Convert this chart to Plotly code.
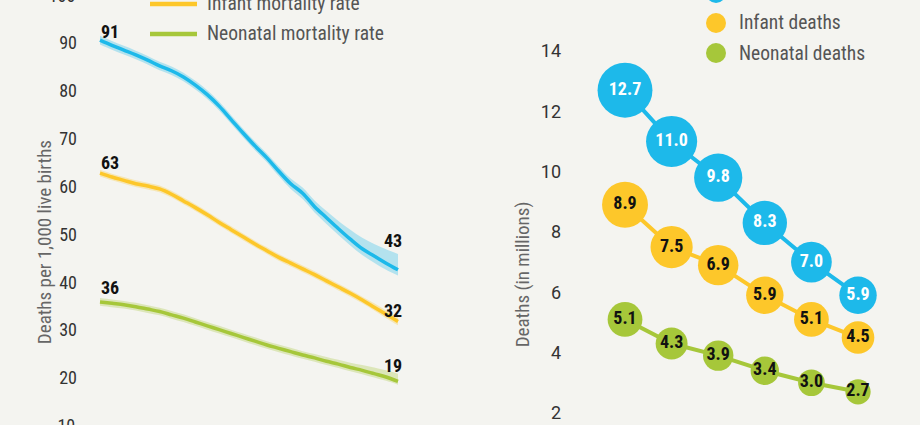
import plotly.graph_objects as go

# ---------------- data ----------------
years = list(range(1990, 2016))

u5mr = [90.6, 89.5, 88.5, 87.5, 86.4, 85.2, 84.2, 82.9, 81.2, 79.2, 76.8, 74.0, 71.2,
        68.5, 66.0, 63.2, 60.6, 58.6, 55.8, 53.5, 51.2, 49.0, 47.0, 45.5, 44.0, 42.6]
u5mr_lo = [89.7, 88.6, 87.6, 86.6, 85.5, 84.3, 83.3, 82.0, 80.3, 78.3, 75.9, 73.1, 70.3,
           67.6, 65.1, 62.2, 59.5, 57.4, 54.6, 52.2, 49.9, 47.7, 45.7, 44.1, 42.6, 41.4]
u5mr_hi = [91.5, 90.4, 89.4, 88.4, 87.3, 86.1, 85.1, 83.8, 82.1, 80.1, 77.7, 74.9, 72.1,
           69.4, 66.9, 64.2, 61.7, 59.8, 57.1, 54.9, 52.8, 51.0, 49.3, 48.0, 46.9, 45.9]

imr = [62.8, 62.0, 61.3, 60.6, 60.1, 59.5, 58.4, 57.0, 55.6, 54.1, 52.5, 51.0, 49.5,
       48.0, 46.6, 45.2, 44.0, 42.8, 41.6, 40.3, 39.0, 37.7, 36.3, 34.8, 33.3, 31.8]
imr_lo = [62.1, 61.3, 60.6, 59.9, 59.4, 58.8, 57.7, 56.3, 54.9, 53.4, 51.8, 50.3, 48.8,
          47.3, 45.9, 44.5, 43.3, 42.1, 40.9, 39.6, 38.3, 37.0, 35.6, 34.1, 32.5, 31.0]
imr_hi = [63.5, 62.7, 62.0, 61.3, 60.8, 60.2, 59.1, 57.7, 56.3, 54.8, 53.2, 51.7, 50.2,
          48.7, 47.3, 45.9, 44.7, 43.5, 42.3, 41.0, 39.7, 38.4, 37.0, 35.6, 34.1, 32.7]

nmr = [35.9, 35.6, 35.3, 34.9, 34.4, 33.9, 33.2, 32.5, 31.7, 30.9, 30.1, 29.3, 28.5,
       27.7, 26.9, 26.2, 25.5, 24.8, 24.2, 23.5, 22.9, 22.2, 21.6, 20.9, 20.2, 19.3]
nmr_lo = [35.1, 34.8, 34.5, 34.1, 33.6, 33.1, 32.4, 31.7, 30.9, 30.1, 29.3, 28.5, 27.7,
          26.9, 26.1, 25.4, 24.7, 24.0, 23.4, 22.7, 22.1, 21.4, 20.8, 20.1, 19.4, 18.6]
nmr_hi = [36.7, 36.4, 36.1, 35.7, 35.2, 34.7, 34.0, 33.3, 32.5, 31.7, 30.9, 30.1, 29.3,
          28.5, 27.7, 27.0, 26.3, 25.6, 25.0, 24.4, 23.8, 23.2, 22.7, 22.2, 21.6, 20.9]

rate_start_labels = ["91", "63", "36"]
rate_end_labels = ["43", "32", "19"]

death_years = [1990, 1995, 2000, 2005, 2010, 2015]
u5_deaths = [12.7, 11.0, 9.8, 8.3, 7.0, 5.9]
inf_deaths = [8.9, 7.5, 6.9, 5.9, 5.1, 4.5]
neo_deaths = [5.1, 4.3, 3.9, 3.4, 3.0, 2.7]

left_ticks = [10, 20, 30, 40, 50, 60, 70, 80, 90, 100]
right_ticks = [2, 4, 6, 8, 10, 12, 14]

rate_legend = ["Under-five mortality rate", "Infant mortality rate", "Neonatal mortality rate"]
death_legend = ["Under-five deaths", "Infant deaths", "Neonatal deaths"]

# ---------------- style ----------------
W, H = 920, 425
BG = "#f4f4f0"
BLUE = "#1db9ea"
YELLOW = "#fdc72a"
GREEN = "#a6c73a"
BAND = {"b": "rgba(29,185,234,0.30)", "y": "rgba(253,199,42,0.30)", "g": "rgba(166,199,58,0.30)"}
NARROW = "Roboto Condensed, Liberation Sans Narrow, Roboto, Arial, sans-serif"
REG = "Roboto, Arial, sans-serif"

L_RANGE = [10.18, 98.98]
R_RANGE = [1.60, 15.69]

fig = go.Figure()

# ---------------- left chart ----------------
series = [
    (u5mr, u5mr_lo, u5mr_hi, BLUE, BAND["b"]),
    (imr, imr_lo, imr_hi, YELLOW, BAND["y"]),
    (nmr, nmr_lo, nmr_hi, GREEN, BAND["g"]),
]
for vals, lo, hi, col, bcol in series:
    fig.add_trace(go.Scatter(x=years, y=lo, mode="lines", line=dict(width=0, shape="spline"),
                             hoverinfo="skip", showlegend=False, xaxis="x", yaxis="y"))
    fig.add_trace(go.Scatter(x=years, y=hi, mode="lines", line=dict(width=0, shape="spline"),
                             fill="tonexty", fillcolor=bcol, hoverinfo="skip",
                             showlegend=False, xaxis="x", yaxis="y"))
    fig.add_trace(go.Scatter(x=years, y=vals, mode="lines",
                             line=dict(color=col, width=3.5, shape="spline"),
                             showlegend=False, xaxis="x", yaxis="y"))

start_shift = [-4, -2, 2]
end_shift = [17, -1.5, 3]
for i, (vals, lo, hi, col, bcol) in enumerate(series):
    fig.add_annotation(x=years[0], y=vals[0], xref="x", yref="y", text=rate_start_labels[i],
                       showarrow=False, xanchor="left", align="left", yanchor="bottom",
                       xshift=-1, yshift=start_shift[i],
                       font=dict(family=NARROW, size=18, color="#111", weight="bold"))
    fig.add_annotation(x=years[-1], y=vals[-1], xref="x", yref="y", text=rate_end_labels[i],
                       showarrow=False, xanchor="center", yanchor="bottom", xshift=-5,
                       yshift=end_shift[i],
                       font=dict(family=NARROW, size=18, color="#111", weight="bold"))

# ---------------- right chart ----------------
dseries = [(u5_deaths, BLUE, "white"), (inf_deaths, YELLOW, "#111"), (neo_deaths, GREEN, "#111")]
for vals, col, tcol in dseries:
    fig.add_trace(go.Scatter(
        x=death_years, y=vals, mode="lines+markers+text",
        text=[f"{v:.1f}" for v in vals], textposition="middle center",
        textfont=dict(family=NARROW, size=18, color=tcol, weight="bold"),
        line=dict(color=col, width=4),
        marker=dict(color=col, opacity=1, size=[15.4 * v ** 0.5 for v in vals],
                    line=dict(width=0)),
        showlegend=False, xaxis="x2", yaxis="y2", cliponaxis=False))

# ---------------- legends (drawn) ----------------
leg_cols = [BLUE, YELLOW, GREEN]
for i, name in enumerate(rate_legend):
    ypx = -26 + 30 * i
    yp = 1 - ypx / H
    fig.add_shape(type="line", xref="paper", yref="paper", x0=150 / W, x1=197 / W, y0=yp, y1=yp,
                  line=dict(color=leg_cols[i], width=4.5))
    fig.add_annotation(x=205 / W, y=yp, xref="paper", yref="paper", text=name, showarrow=False,
                       xanchor="left", align="left", yanchor="middle",
                       font=dict(family=REG, size=19.5, color="#555"))
for i, name in enumerate(death_legend):
    ypx = -7 + 30 * i
    yp = 1 - ypx / H
    fig.add_shape(type="circle", xref="paper", yref="paper",
                  x0=706 / W, x1=726 / W, y0=yp - 10 / H, y1=yp + 10 / H,
                  fillcolor=leg_cols[i], line=dict(width=0))
    fig.add_annotation(x=737 / W, y=yp, xref="paper", yref="paper", text=name, showarrow=False,
                       xanchor="left", align="left", yanchor="middle",
                       font=dict(family=REG, size=19.5, color="#555"))

# axis titles
fig.add_annotation(x=30 / W, y=1 - 242 / H, xref="paper", yref="paper",
                   text="Deaths per 1,000 live births", textangle=-90, showarrow=False,
                   font=dict(family=REG, size=19, color="#666"))
fig.add_annotation(x=522 / W, y=1 - 275 / H, xref="paper", yref="paper",
                   text="Deaths (in millions)", textangle=-90, showarrow=False,
                   font=dict(family=REG, size=19, color="#666"))

# cut-off tick labels beyond the visible range (left axis)
for t in left_ticks:
    if t < L_RANGE[0] or t > L_RANGE[1]:
        fig.add_annotation(x=77 / W, y=(t - L_RANGE[0]) / (L_RANGE[1] - L_RANGE[0]),
                           xref="paper", yref="paper", text=str(t), showarrow=False,
                           xanchor="right", align="right", yanchor="middle",
                           font=dict(family=REG, size=18, color="#333"))

axis_common = dict(showgrid=False, zeroline=False, showline=False, ticks="")
fig.update_layout(
    width=W, height=H,
    margin=dict(l=0, r=0, t=0, b=0),
    paper_bgcolor=BG, plot_bgcolor=BG,
    showlegend=False,
    xaxis=dict(domain=[78 / W, 420 / W], range=[1988.154, 2016.846], showticklabels=False,
               **axis_common),
    yaxis=dict(domain=[0, 1], range=L_RANGE, tickvals=left_ticks,
               tickfont=dict(family=REG, size=18, color="#333"), **axis_common),
    xaxis2=dict(domain=[562 / W, 905 / W], range=[1983.24, 2020.04], showticklabels=False,
                anchor="y2", **axis_common),
    yaxis2=dict(domain=[0, 1], range=R_RANGE, tickvals=right_ticks, anchor="x2",
                tickfont=dict(family=REG, size=18, color="#333"), **axis_common),
)

post = ("document.body.style.margin='0';document.body.style.padding='0';"
        "document.body.style.overflow='hidden';"
        "document.head.insertAdjacentHTML('beforeend',"
        "'<style>.annotation-text, .textpoint text, .ytick text {font-stretch: 80%;}</style>');")
fig.write_html("out.html", post_script=post,
               config={"displayModeBar": False, "staticPlot": True})
